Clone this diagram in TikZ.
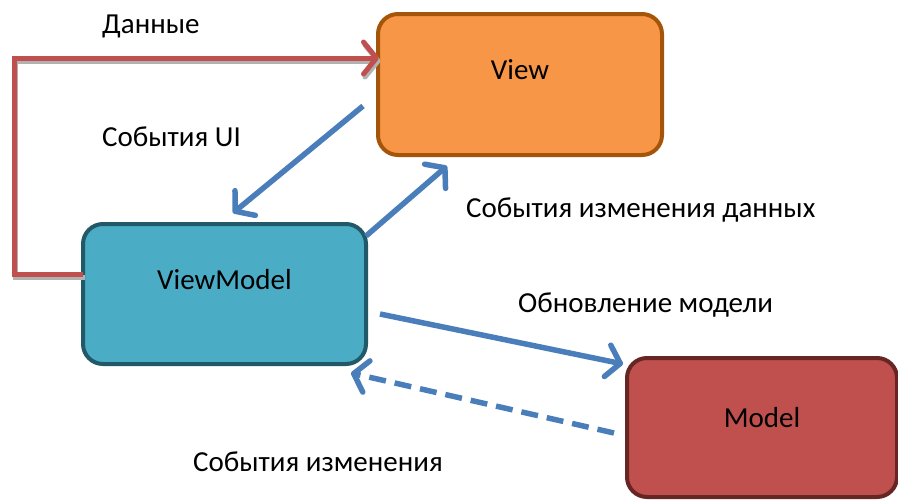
\documentclass[tikz,border=0pt]{standalone}
\usepackage{fontspec}
\setmainfont{Carlito}
\usetikzlibrary{arrows.meta}
\definecolor{vfill}{HTML}{F79646}
\definecolor{vdraw}{HTML}{A5550A}
\definecolor{vmfill}{HTML}{4BACC6}
\definecolor{vmdraw}{HTML}{215968}
\definecolor{mfill}{HTML}{C0504D}
\definecolor{mdraw}{HTML}{652624}
\definecolor{bluel}{HTML}{4A7EBB}
\definecolor{redl}{HTML}{C0504D}
\tikzset{
  box/.style={rounded corners=20pt, line width=4pt, inner sep=0pt},
  lbl/.style={font=\fontsize{29}{34}\selectfont, inner sep=0pt, anchor=west},
  boxtxt/.style={font=\fontsize{29}{34}\selectfont},
  barb/.style={-{Straight Barb[length=13pt,width=32pt,round]}},
  bluearrow/.style={draw=bluel, line width=5.5pt, barb},
}
\begin{document}
\begin{tikzpicture}[x=1pt,y=-1pt]
\useasboundingbox[fill=white] (0,0) rectangle (898,499);
% boxes
\node[box, fill=vfill, draw=vdraw, minimum width=284pt, minimum height=141pt,
  label={[boxtxt,yshift=15pt]center:View}] (view) at (520,84.5) {};
\node[box, fill=vmfill, draw=vmdraw, minimum width=283pt, minimum height=140pt,
  label={[boxtxt,yshift=14pt]center:ViewModel}] (vm) at (224.5,294) {};
\node[box, fill=mfill, draw=mdraw, minimum width=270pt, minimum height=139pt,
  label={[boxtxt,yshift=10pt]center:Model}] (model) at (762,427.5) {};
% coordinates
\coordinate (redstart) at (83,274);
\coordinate (redcorner) at (14,274);
\coordinate (redend) at (379,58);
\coordinate (a1s) at (363,106);
\coordinate (a1e) at (233,213);
\coordinate (a2s) at (366,236);
\coordinate (a2e) at (447,166);
\coordinate (a3s) at (380,314);
\coordinate (a3e) at (623,364);
\coordinate (a4s) at (614,433);
\coordinate (a4e) at (351,373);
% red connector with shadow
\draw[line width=5pt, draw=black!30, barb, transform canvas={shift={(1.5pt,-3pt)}}] (redstart) -- (redcorner) |- (redend);
\draw[line width=5pt, draw=redl, barb] (redstart) -- (redcorner) |- (redend);
% blue arrows
\draw[bluearrow] (a1s) -- (a1e);
\draw[bluearrow] (a2s) -- (a2e);
\draw[bluearrow] (a3s) -- (a3e);
\draw[bluearrow, dash pattern=on 17pt off 9pt] (a4s) -- (a4e);
% labels
\node[lbl] (ldata) at (102,26) {Данные};
\node[lbl] (lui) at (102,137) {События UI};
\node[lbl] (lchg) at (466,210) {События изменения данных};
\node[lbl] (lupd) at (518,305) {Обновление модели};
\node[lbl] (lev) at (193,462) {События изменения};
\end{tikzpicture}
\end{document}
